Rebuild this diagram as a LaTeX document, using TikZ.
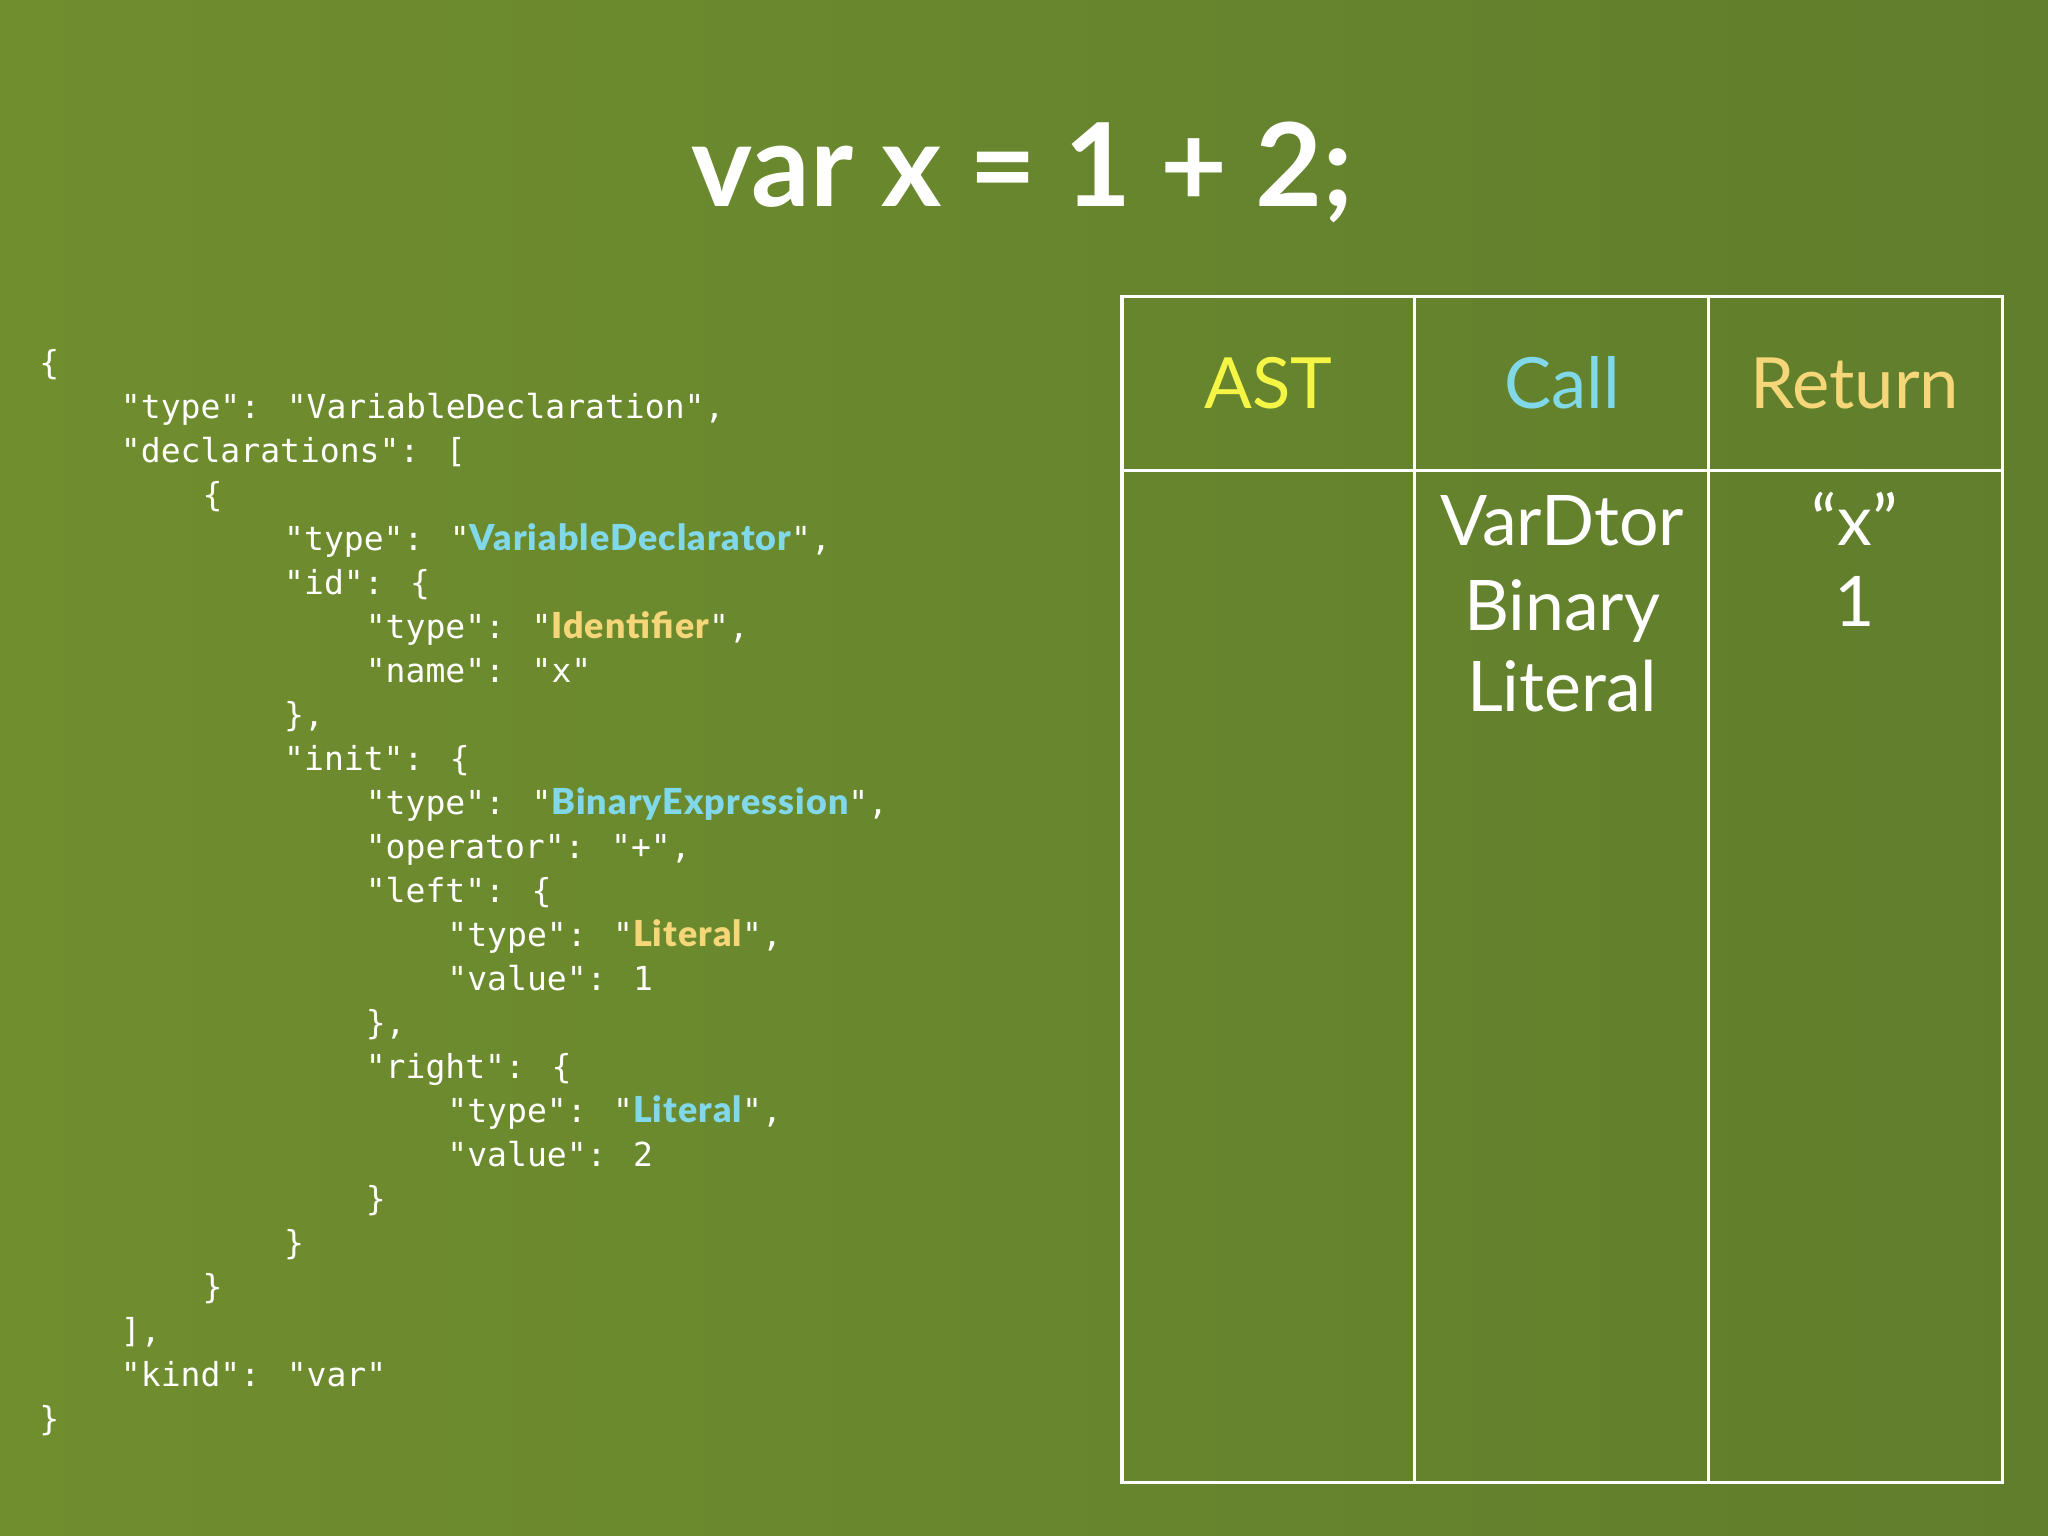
\documentclass[tikz,border=0pt]{standalone}
\usepackage{fontspec}
\setmainfont{Lato}
\newfontfamily\codefont{DejaVu Sans Mono}
\newfontfamily\hlfont[LetterSpace=3]{Lato Black}
\definecolor{bgA}{RGB}{112,142,46}
\definecolor{bgB}{RGB}{96,126,44}
\definecolor{hcyan}{RGB}{128,216,232}
\definecolor{horange}{RGB}{245,214,120}
\definecolor{hyellow}{RGB}{245,245,70}
\begin{document}
\begin{tikzpicture}[x=0.05cm,y=-0.05cm,
  code/.style={anchor=base west,inner sep=0,text=white,font=\codefont\fontsize{36}{40}\selectfont},
  hdr/.style={anchor=base,inner sep=0,font=\fontsize{77}{80}\selectfont},
  body/.style={anchor=base,inner sep=0,text=white,font=\fontsize{76}{80}\selectfont},
  grid/.style={draw=white,line width=3.5pt}]
\shade[left color=bgA,right color=bgB] (0,0) rectangle (1568,1176);
\useasboundingbox (0,0) rectangle (1568,1176);
\node[anchor=base,inner sep=0,text=white,font=\bfseries\fontsize{126}{130}\selectfont] (title) at (783,158) {var x = 1 + 2;};
% code
\newcommand{\hl}[2]{{\hlfont\fontsize{39}{40}\selectfont\color{#1}#2}}
\newcommand{\ind}[1]{\hspace*{#1\dimexpr 88.9pt\relax}}
\foreach \t [count=\i from 0] in {
{\{},
{\ind{1}"type": "VariableDeclaration",},
{\ind{1}"declarations": [},
{\ind{2}\{},
{\ind{3}"type": "\hl{hcyan}{VariableDeclarator}",},
{\ind{3}"id": \{},
{\ind{4}"type": "\hl{horange}{Identifier}",},
{\ind{4}"name": "x"},
{\ind{3}\},},
{\ind{3}"init": \{},
{\ind{4}"type": "\hl{hcyan}{BinaryExpression}",},
{\ind{4}"operator": "+",},
{\ind{4}"left": \{},
{\ind{5}"type": "\hl{horange}{Literal}",},
{\ind{5}"value": 1},
{\ind{4}\},},
{\ind{4}"right": \{},
{\ind{5}"type": "\hl{hcyan}{Literal}",},
{\ind{5}"value": 2},
{\ind{4}\}},
{\ind{3}\}},
{\ind{2}\}},
{\ind{1}],},
{\ind{1}"kind": "var"},
{\}}}
  \node[code] (c\i) at (30,{287+33.67*\i}) {\t};
% table
\coordinate (tl) at (859,227);
\coordinate (br) at (1533,1135);
\draw[grid] (tl) rectangle (br);
\draw[grid] (1083,227) -- (1083,1135);
\draw[grid] (1308,227) -- (1308,1135);
\draw[grid] (859,360) -- (1533,360);
\node[hdr,text=hyellow] (hA) at (971,313) {AST};
\node[hdr,text=hcyan] (hC) at (1196,313) {Call};
\node[hdr,text=horange] (hR) at (1420,313) {Return};
\node[body] (b1) at (1196,418) {VarDtor};
\node[body] (b2) at (1196,483) {Binary};
\node[body] (b3) at (1196,545) {Literal};
\node[body] (r1) at (1420,418) {“x”};
\node[body] (r2) at (1420,480) {1};
\end{tikzpicture}
\end{document}
